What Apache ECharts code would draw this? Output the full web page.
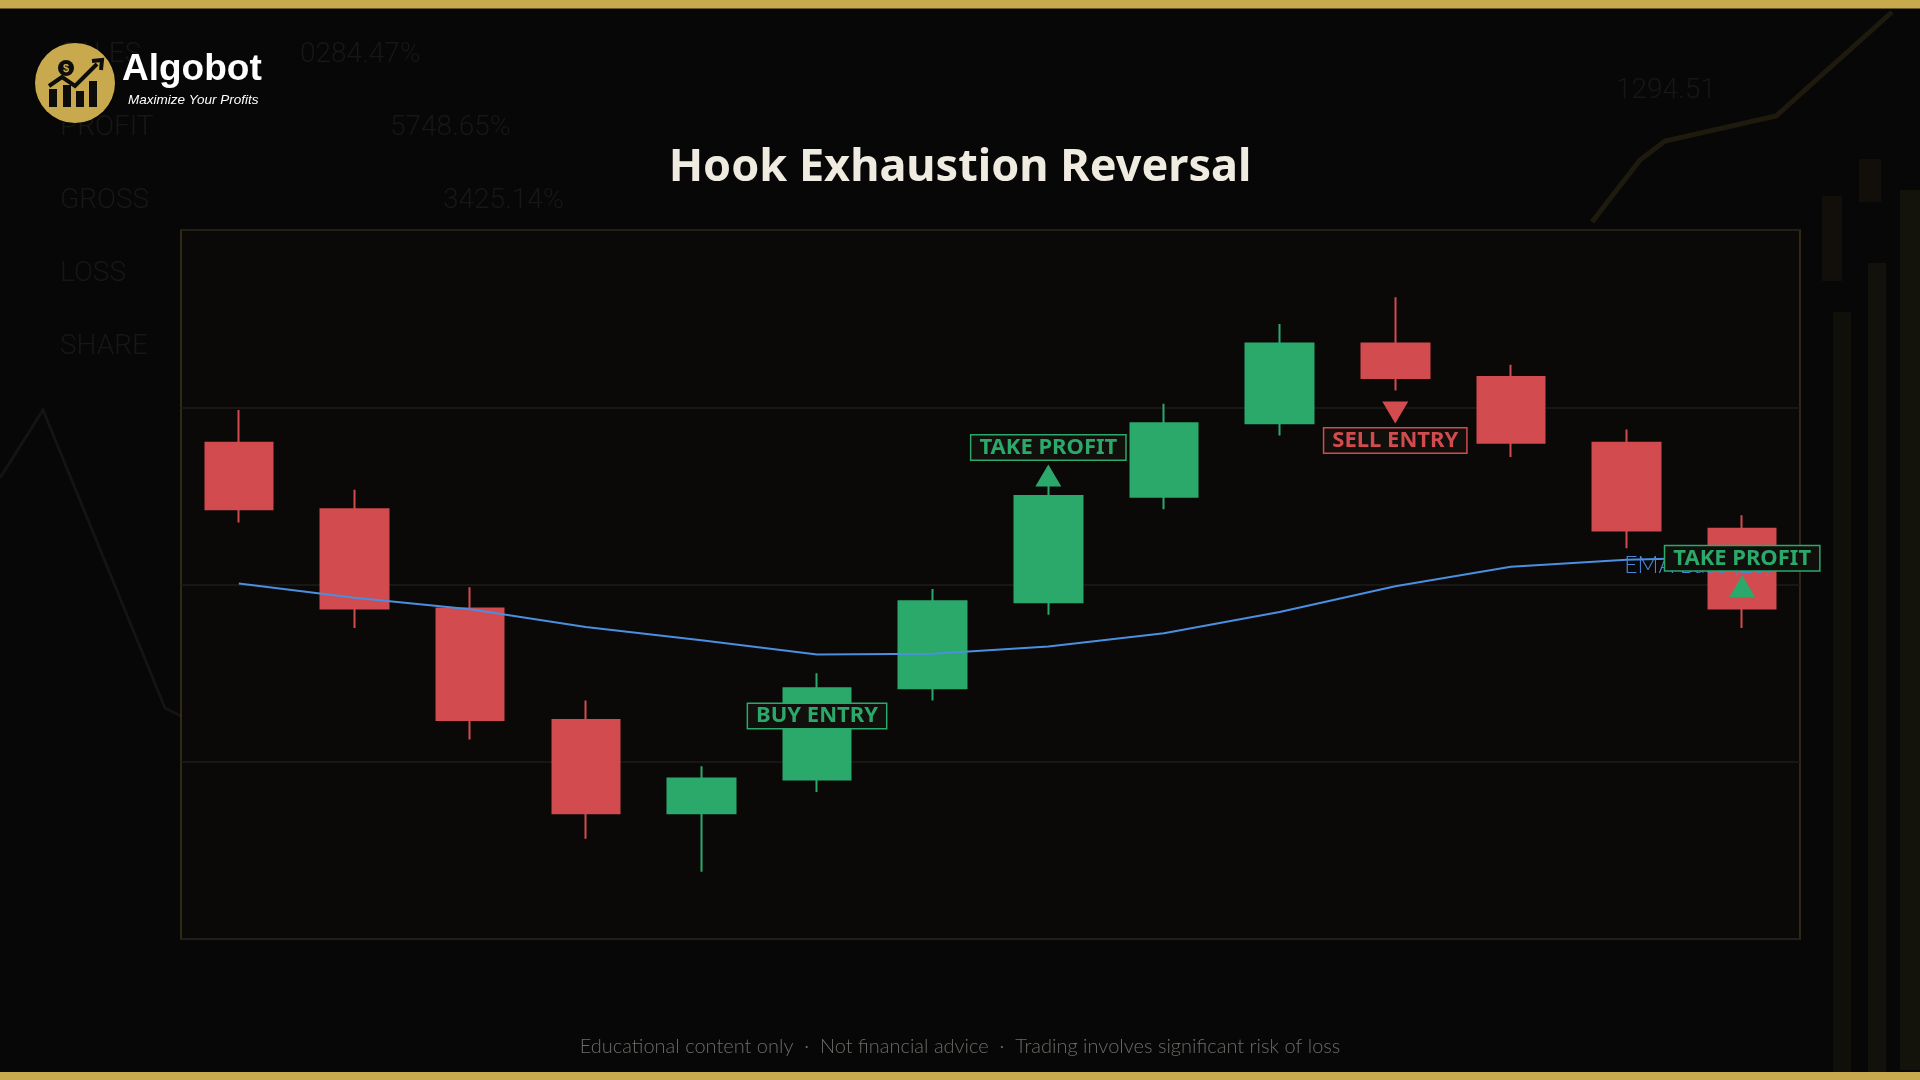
<!DOCTYPE html>
<html>
<head>
<meta charset="utf-8">
<style>
html,body{margin:0;padding:0;background:#070707;}
#chart{width:1920px;height:1080px;}
</style>
<script src="https://cdn.jsdelivr.net/npm/echarts@6/dist/echarts.min.js"></script>
</head>
<body>
<div id="chart"></div>
<script>
// ---- data ----
var categories = ['09:00','09:15','09:30','09:45','10:00','10:15','10:30','10:45','11:00','11:15','11:30','11:45','12:00','12:15'];
var opens  = [105.60,104.85,103.73,102.47,101.42,101.80,102.83,103.80,104.99,105.82,106.72,106.34,105.60,104.63];
var closes = [104.85,103.73,102.47,101.42,101.81,102.83,103.81,105.00,105.82,106.72,106.33,105.60,104.61,103.73];
var lows   = [104.70,103.51,102.25,101.13,100.76,101.66,102.69,103.66,104.85,105.68,106.19,105.44,104.41,103.51];
var highs  = [105.97,105.07,103.97,102.69,101.95,103.00,103.95,105.15,106.04,106.94,107.24,106.48,105.75,104.78];
var ema    = [104.01,103.85,103.72,103.52,103.37,103.21,103.22,103.30,103.45,103.69,103.98,104.20,104.28,104.31];
var emaName = 'EMA Base (20)';
var markerIdx   = [5, 7, 10, 13];
var markerPrice = [102.20, 105.23, 105.94, 103.98];
var markerText  = ['BUY ENTRY', 'TAKE PROFIT', 'SELL ENTRY', 'TAKE PROFIT'];
var markerSide  = ['long', 'long', 'short', 'long'];
var yMin = 100, yMax = 108, yInterval = 2;

var GREEN = '#2aa96b', RED = '#d24b4e', GOLD = '#c9a94e';

var candleData = opens.map(function(o, i){ return [o, closes[i], lows[i], highs[i]]; });
var markerData = markerIdx.map(function(ix, i){
  var isLong = markerSide[i] === 'long';
  var c = isLong ? GREEN : RED;
  return {
    value: [ix, markerPrice[i]],
    symbol: 'triangle',
    symbolRotate: isLong ? 0 : 180,
    itemStyle: {color: c, opacity: 1},
    label: {
      show: true,
      position: isLong ? 'top' : 'bottom',
      distance: 5,
      formatter: markerText[i],
      color: c,
      borderColor: c,
      borderWidth: 1.5,
      backgroundColor: '#12100d',
      fontFamily: 'Noto Sans',
      fontWeight: 'bold',
      fontSize: 22,
      lineHeight: 22,
      padding: [1, 8, 1, 8]
    }
  };
});

var chart = echarts.init(document.getElementById('chart'), null, {renderer: 'canvas'});

var wmText = {fill: '#181715', font: '300 28px "Liberation Sans Narrow", "Roboto", sans-serif'};
function wm(x, y, t){ return {type: 'text', z: -5, style: Object.assign({x: x, y: y, text: t, textVerticalAlign: 'middle'}, wmText)}; }

var option = {
  backgroundColor: '#070707',
  animation: false,
  title: {
    text: 'Hook Exhaustion Reversal',
    left: 'center',
    top: 141,
    textStyle: {color: '#f0ebe0', fontFamily: 'Noto Sans', fontWeight: 'bold', fontSize: 45}
  },
  grid: {
    left: 181, top: 230, width: 1619, height: 709,
    show: true,
    backgroundColor: '#0a0908',
    borderColor: 'rgba(201,169,78,0.28)',
    borderWidth: 1.5
  },
  xAxis: {
    type: 'category',
    data: categories,
    boundaryGap: true,
    axisLine: {show: false},
    axisTick: {show: false},
    axisLabel: {show: false},
    splitLine: {show: false}
  },
  yAxis: {
    type: 'value',
    min: yMin, max: yMax, interval: yInterval,
    axisLine: {show: false},
    axisTick: {show: false},
    axisLabel: {show: false},
    splitLine: {show: true, lineStyle: {color: '#1e1c1a', width: 1.5}}
  },
  series: [
    {
      type: 'candlestick',
      name: 'Price',
      data: candleData,
      barWidth: 68,
      z: 2,
      itemStyle: {color: GREEN, color0: RED, borderColor: GREEN, borderColor0: RED, borderWidth: 2}
    },
    {
      type: 'line',
      name: emaName,
      data: ema,
      symbol: 'none',
      z: 3,
      lineStyle: {color: '#4a8fe0', width: 2},
      endLabel: {
        show: true,
        formatter: emaName,
        color: '#4a86d6',
        fontFamily: 'Lato',
        fontWeight: 300,
        fontSize: 23,
        offset: [-126, 9]
      }
    },
    {
      type: 'scatter',
      name: 'Signals',
      data: markerData,
      symbolSize: [26, 22],
      z: 5
    }
  ],
  graphic: {
    elements: [
      // faint background watermark
      wm(60, 55, 'SALES'), wm(300, 55, '0284.47%'),
      wm(60, 128, 'PROFIT'), wm(390, 128, '5748.65%'),
      wm(60, 201, 'GROSS'), wm(443, 201, '3425.14%'),
      wm(60, 274, 'LOSS'),
      wm(60, 347, 'SHARE'),
      wm(1616, 91, '1294.51'),
      {type: 'polyline', z: -5, shape: {points: [[0,478],[43,410],[165,708],[181,716]]}, style: {stroke: '#151413', lineWidth: 3, fill: null}},
      {type: 'polyline', z: -5, shape: {points: [[1592,222],[1640,160],[1665,141],[1776,116],[1892,12]]}, style: {stroke: '#1f1a0e', lineWidth: 5, fill: null}},
      {type: 'rect', z: -5, shape: {x: 1833, y: 312, width: 18, height: 760}, style: {fill: '#100f0a'}},
      {type: 'rect', z: -5, shape: {x: 1868, y: 263, width: 18, height: 810}, style: {fill: '#12110b'}},
      {type: 'rect', z: -5, shape: {x: 1900, y: 190, width: 20, height: 880}, style: {fill: '#13120b'}},
      {type: 'rect', z: -5, shape: {x: 1822, y: 196, width: 20, height: 85}, style: {fill: '#120f0a'}},
      {type: 'rect', z: -5, shape: {x: 1859, y: 159, width: 22, height: 43}, style: {fill: '#120f0a'}},
      // gold bars
      {type: 'rect', z: 10, shape: {x: 0, y: 0, width: 1920, height: 8.5}, style: {fill: GOLD}},
      {type: 'rect', z: 10, shape: {x: 0, y: 1072, width: 1920, height: 8}, style: {fill: GOLD}},
      // logo
      {type: 'circle', z: 10, shape: {cx: 75, cy: 83, r: 40}, style: {fill: GOLD}},
      {type: 'rect', z: 11, shape: {x: 49, y: 89, width: 8, height: 18}, style: {fill: '#0d0d0b'}},
      {type: 'rect', z: 11, shape: {x: 63, y: 85, width: 8, height: 22}, style: {fill: '#0d0d0b'}},
      {type: 'rect', z: 11, shape: {x: 76, y: 91, width: 8, height: 16}, style: {fill: '#0d0d0b'}},
      {type: 'rect', z: 11, shape: {x: 89, y: 81, width: 8, height: 26}, style: {fill: '#0d0d0b'}},
      {type: 'polyline', z: 12, shape: {points: [[49,86],[62,77],[75,86],[97,64]]}, style: {stroke: '#0d0d0b', lineWidth: 4, fill: null}},
      {type: 'polyline', z: 12, shape: {points: [[92,61],[102,60],[101,70]]}, style: {stroke: '#0d0d0b', lineWidth: 4, fill: null}},
      {type: 'circle', z: 12, shape: {cx: 66, cy: 68, r: 8}, style: {fill: '#0d0d0b'}},
      {type: 'text', z: 13, style: {x: 66, y: 68.5, text: '$', fill: GOLD, font: 'bold 11px "Liberation Sans"', textAlign: 'center', textVerticalAlign: 'middle'}},
      {type: 'text', z: 12, style: {x: 122, y: 70, text: 'Algobot', fill: '#ffffff', font: 'bold 37px "Liberation Sans"', textVerticalAlign: 'middle'}},
      {type: 'text', z: 12, style: {x: 128, y: 100, text: 'Maximize Your Profits', fill: '#ffffff', font: 'italic 13.5px "Liberation Sans"', textVerticalAlign: 'middle'}},
      // footer
      {type: 'text', z: 12, style: {x: 960, y: 1047, text: 'Educational content only  ·  Not financial advice  ·  Trading involves significant risk of loss', fill: '#6e6c68', font: '300 20px "Lato"', textAlign: 'center', textVerticalAlign: 'middle'}}
    ]
  }
};
chart.setOption(option);
</script>
</body>
</html>
